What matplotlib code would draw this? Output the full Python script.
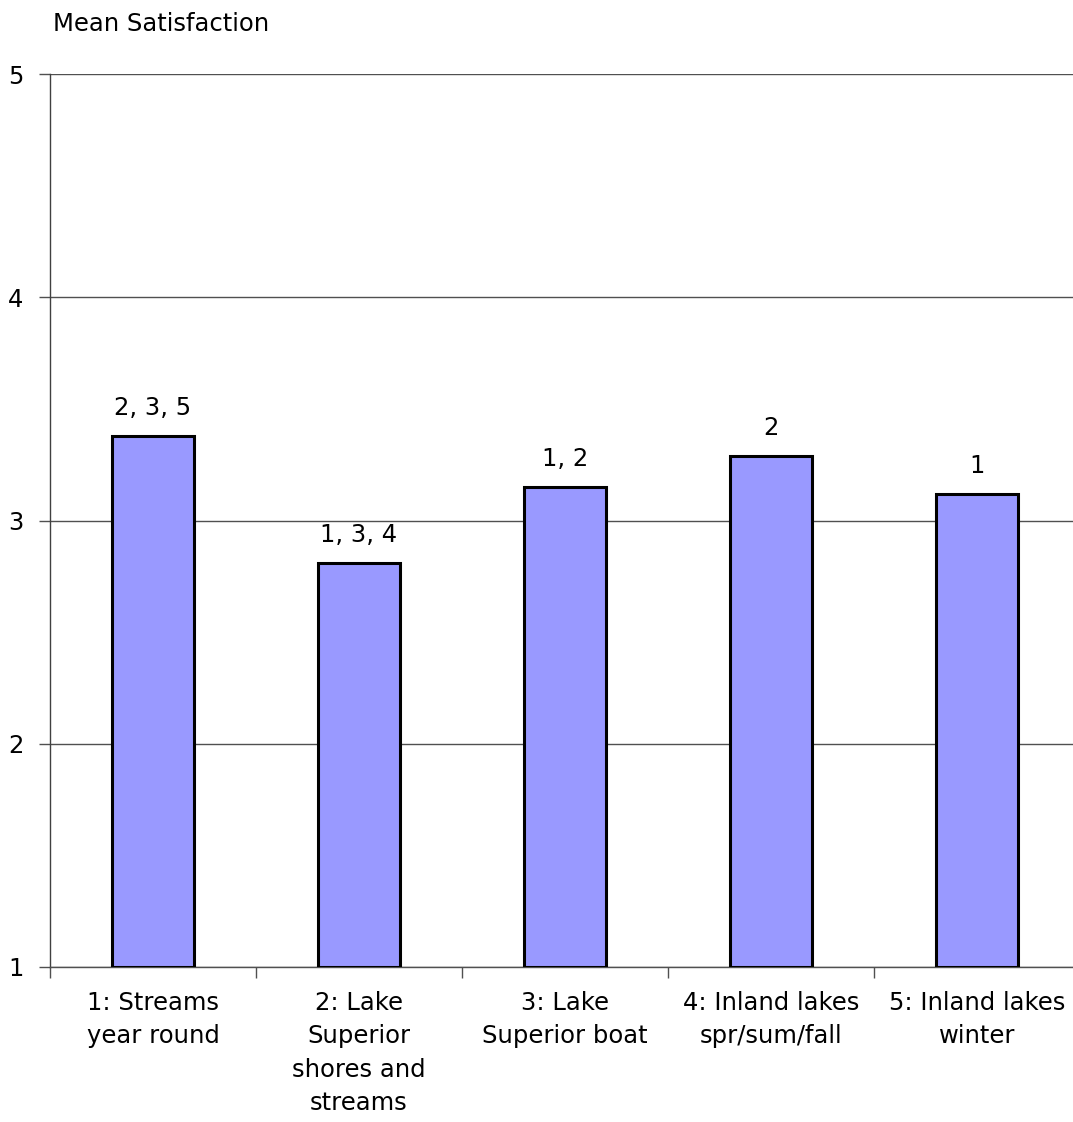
import numpy as np
import matplotlib.pyplot as plt

categories = ["1: Streams\nyear round", "2: Lake\nSuperior\nshores and\nstreams",
              "3: Lake\nSuperior boat", "4: Inland lakes\nspr/sum/fall",
              "5: Inland lakes\nwinter"]
means = [3.38, 2.81, 3.15, 3.29, 3.12]
sig_labels = ["2, 3, 5", "1, 3, 4", "1, 2", "2", "1"]

plt.rcParams['font.family'] = ['DejaVu Sans']
fs = 17.5
fig = plt.figure(figsize=(10.73, 11.22), dpi=100)
# axes runs slightly past the right edge, as in the original
ax = fig.add_axes([50 / 1073, 1 - 967 / 1122, 1030 / 1073, (967 - 74) / 1122])

x = np.arange(len(categories))
ax.bar(x, np.array(means) - 1, bottom=1, width=0.4, color="#9999ff",
       edgecolor="black", linewidth=2.2, zorder=3)

for xi, m, s in zip(x, means, sig_labels):
    ax.text(xi, m + 0.07, s, ha="center", va="bottom", fontsize=fs)

ax.set_xlim(-0.5, len(categories) - 0.5)
ax.set_ylim(1, 5)
ax.set_yticks([1, 2, 3, 4, 5])
ax.yaxis.grid(True, color="#505050", linewidth=1.0, zorder=0)
ax.set_axisbelow(True)

# category labels between boundary ticks
ax.set_xticks(np.arange(len(categories) + 1) - 0.5)
ax.set_xticklabels([])
ax.set_xticks(x, minor=True)
ax.set_xticklabels(categories, minor=True, fontsize=fs, linespacing=1.5)
ax.tick_params(axis="x", which="minor", length=0, pad=17)
ax.tick_params(axis="x", which="major", length=8, color="#505050", width=1.0)
ax.tick_params(axis="y", length=8, color="#505050", width=1.0, labelsize=fs, pad=11)

for side in ["top", "right"]:
    ax.spines[side].set_visible(False)
ax.spines["bottom"].set_color("#505050")
ax.spines["bottom"].set_linewidth(1.0)
ax.spines["left"].set_color("#404040")
ax.spines["left"].set_linewidth(1.0)

fig.text(53 / 1073, 1 - 24 / 1122, "Mean Satisfaction", fontsize=fs, va="center", ha="left")

fig.savefig("out.png", dpi=100)
